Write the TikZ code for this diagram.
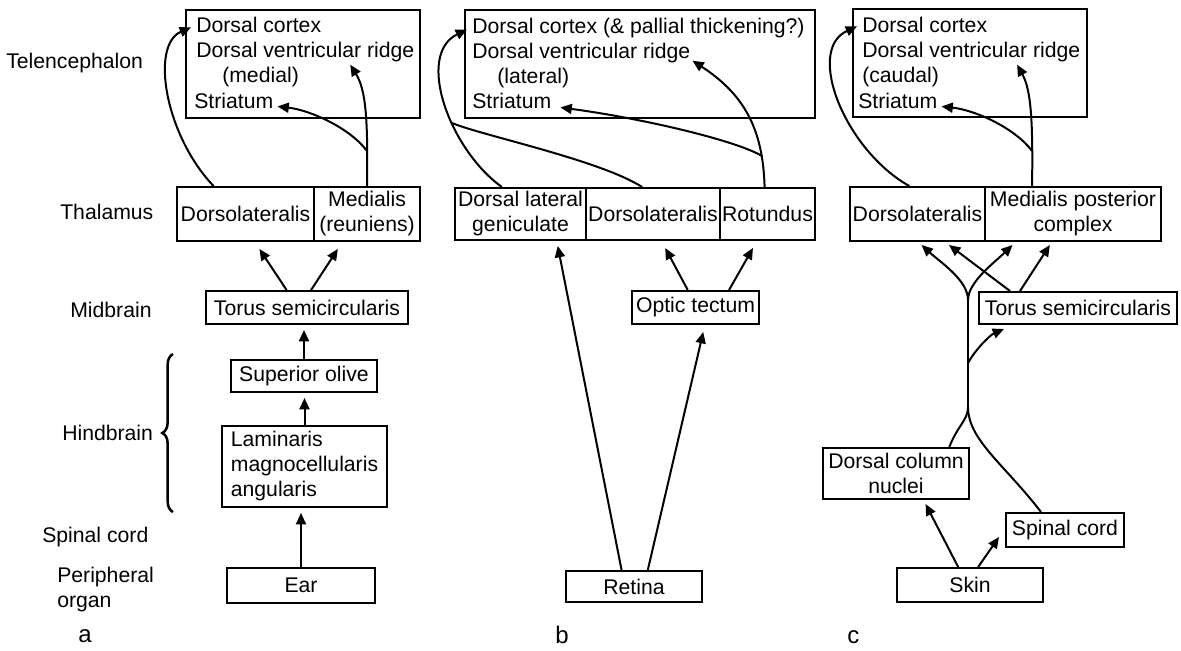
\documentclass[tikz,border=0pt]{standalone}
\usepackage{fontspec}
\setmainfont{Liberation Sans}
\usetikzlibrary{arrows.meta,calc,decorations.pathreplacing}
\begin{document}
\begin{tikzpicture}[x=0.75pt,y=-0.75pt,
  every node/.style={font=\fontsize{15.9}{18.75}\selectfont},
  box/.style={draw, line width=1.5pt, inner sep=0pt, align=center},
  rect/.style n args={4}{minimum width={(#3-#1)*0.75pt}, minimum height={(#4-#2)*0.75pt}, at={({(#1+#3)/2},{(#2+#4)/2})}},
  lbl/.style={inner sep=0pt, anchor=base west},
  side/.style={inner sep=0pt, anchor=west, align=left},
  arr/.style={line width=1.5pt, -{Triangle[length=8.5pt,width=7.5pt]}},
  ln/.style={line width=1.5pt}]
\fill[white] (0,0) rectangle (1181,650);
\useasboundingbox (0,0) rectangle (1181,650);

% ---------- side labels ----------
\node[side] (tel) at (6,63) {Telencephalon};
\node[side] (thal) at (60,212) {Thalamus};
\node[side] (mid) at (70,310) {Midbrain};
\node[side] (hind) at (62,433) {Hindbrain};
\node[side] (spin) at (42,537) {Spinal cord};
\node[side] (per) at (57,590) {Peripheral\\organ};
\node[side, font=\fontsize{18}{20}\selectfont] (la) at (78,636) {a};
\node[side, font=\fontsize{18}{20}\selectfont] (lb) at (555,635) {b};
\node[side, font=\fontsize{18}{20}\selectfont] (lc) at (847,637) {c};
\draw[line width=1.9pt, decorate, decoration={brace, amplitude=8pt}] (173,512) -- (173,354);

% ---------- panel a ----------
\node[box, rect={186}{10}{420}{118}] (aTel) {};
\node[lbl] (aDC) at (196,32) {Dorsal cortex};
\node[lbl] (aDVR) at (196,57) {Dorsal ventricular ridge};
\node[lbl] (aMd) at (222,82) {(medial)};
\node[lbl] (aStr) at (194,108) {Striatum};
\node[box, rect={177}{187}{314}{241}] (aDL) {Dorsolateralis};
\node[box, rect={314}{187}{420}{241}] (aMed) {Medialis\\(reuniens)};
\node[box, rect={206}{291}{408}{324}] (aTor) {Torus semicircularis};
\node[box, rect={231}{360}{377}{392}] (aSO) {Superior olive};
\node[box, rect={222}{426}{387}{507}, align=left] (aLam) {Laminaris\\magnocellularis\\angularis};
\node[box, rect={227}{568}{375}{603}] (aEar) {Ear};

\draw[arr] ($(aDL.north west)!0.27!(aDL.north east)$) .. controls (165,135) and (150,45) .. ([shift={(-5,3)}]aDC.west);
\coordinate (aBr) at (367,151);
\draw[arr] (aMed.north) .. controls (368,120) and (366,90) .. ($(aDVR.south west)!0.706!(aDVR.south east)+(0,3)$);
\draw[arr] (aBr) .. controls (350,128) and (310,110) .. ([shift={(4,-2)}]aStr.south east);
\draw[arr] ($(aTor.north west)!0.4!(aTor.north east)$) -- ($(aDL.south west)!0.6!(aDL.south east)+(0,7)$);
\draw[arr] ($(aTor.north west)!0.52!(aTor.north east)$) -- ($(aMed.south west)!0.23!(aMed.south east)+(0,7)$);
\draw[arr] (aSO.north) -- ($(aSO.north |- aTor.south)+(0,5)$);
\draw[arr] (aLam.north) -- ($(aLam.north |- aSO.south)+(0,5)$);
\draw[arr] (aEar.north) -- ($(aEar.north |- aLam.south)+(0,5)$);

% ---------- panel b ----------
\node[box, rect={465}{10}{815}{118}] (bTel) {};
\node[lbl] (bDC) at (472,33) {Dorsal cortex (\& pallial thickening?)};
\node[lbl] (bDVR) at (472,58) {Dorsal ventricular ridge};
\node[lbl] (bLat) at (497,83) {(lateral)};
\node[lbl] (bStr) at (472,108) {Striatum};
\node[box, rect={455}{188}{586}{240}] (bDLG) {Dorsal lateral\\geniculate};
\node[box, rect={586}{188}{720}{240}] (bDL) {Dorsolateralis};
\node[box, rect={720}{188}{815}{240}] (bRot) {Rotundus};
\node[box, rect={632}{291}{759}{324}] (bOT) {Optic tectum};
\node[box, rect={566}{571}{702}{602}] (bRet) {Retina};

\draw[arr] ($(bDLG.north west)!0.36!(bDLG.north east)$) .. controls (450,150) and (415,55) .. ([shift={(-5,2)}]bDC.west);
\coordinate (bM) at (452,123);
\draw[ln] ($(bDL.north west)!0.42!(bDL.north east)$) .. controls (600,160) and (480,135) .. (bM);
\coordinate (bBr) at (762,156);
\draw[arr] ($(bRot.north west)!0.47!(bRot.north east)$) .. controls (763,130) and (745,95) .. ([shift={(2,-2)}]bDVR.south east);
\draw[arr] (bBr) .. controls (735,140) and (640,118) .. ([shift={(9,-1)}]bStr.south east);
\draw[arr] ($(bRet.north west)!0.41!(bRet.north east)$) -- ($(bDLG.south west)!0.78!(bDLG.south east)+(0,5)$);
\draw[arr] ($(bRet.north west)!0.6!(bRet.north east)$) -- ($(bOT.south west)!0.56!(bOT.south east)+(0,7)$);
\draw[arr] ($(bOT.north west)!0.44!(bOT.north east)$) -- ($(bDL.south west)!0.59!(bDL.south east)+(0,7)$);
\draw[arr] ($(bOT.north west)!0.76!(bOT.north east)$) -- ($(bRot.south west)!0.35!(bRot.south east)+(0,7)$);

% ---------- panel c ----------
\node[box, rect={853}{9}{1087}{117}] (cTel) {};
\node[lbl] (cDC) at (862,32) {Dorsal cortex};
\node[lbl] (cDVR) at (862,57) {Dorsal ventricular ridge};
\node[lbl] (cCd) at (862,82) {(caudal)};
\node[lbl] (cStr) at (858,108) {Striatum};
\node[box, rect={850}{187}{985}{241}] (cDL) {Dorsolateralis};
\node[box, rect={985}{187}{1161}{241}] (cMP) {Medialis posterior\\complex};
\node[box, rect={979}{292}{1177}{324}] (cTor) {Torus semicircularis};
\node[box, rect={823}{448}{969}{499}] (cDCN) {Dorsal column\\nuclei};
\node[box, rect={1006}{513}{1124}{547}] (cSC) {Spinal cord};
\node[box, rect={897}{568}{1043}{602}] (cSkin) {Skin};

\draw[arr] ($(cDL.north west)!0.44!(cDL.north east)$) .. controls (845,150) and (805,50) .. ([shift={(-5,2)}]cDC.west);
\coordinate (cBr) at (1032,151);
\draw[arr] ($(cMP.north west)!0.27!(cMP.north east)$) .. controls (1033,120) and (1031,90) .. ($(cDVR.south west)!0.71!(cDVR.south east)+(0,3)$);
\draw[arr] (cBr) .. controls (1015,128) and (975,110) .. ([shift={(4,-2)}]cStr.south east);

\draw[arr] ($(cSkin.north west)!0.42!(cSkin.north east)$) -- ($(cDCN.south west)!0.7!(cDCN.south east)+(0,4)$);
\draw[arr] ($(cSkin.north west)!0.555!(cSkin.north east)$) -- ([shift={(-6,7)}]cSC.west);
\coordinate (cJ) at (968,407);
\coordinate (cB) at (968,363);
\coordinate (cT) at (968,300);
\draw[ln] ($(cDCN.north west)!0.86!(cDCN.north east)$) .. controls (958,425) and (968,420) .. (cJ);
\draw[ln] ($(cSC.north west)!0.3!(cSC.north east)$) .. controls (1005,465) and (968,440) .. (cJ);
\draw[ln] (cJ) -- (cT);
\draw[arr] (cB) .. controls (975,350) and (990,335) .. ($(cTor.south west)!0.13!(cTor.south east)+(0,4)$);
\draw[arr] (cT) .. controls (968,280) and (940,262) .. ($(cDL.south west)!0.53!(cDL.south east)+(0,3)$);
\draw[arr] (cT) .. controls (968,282) and (995,262) .. ($(cMP.south west)!0.16!(cMP.south east)+(0,3)$);
\draw[arr] ($(cTor.north west)!0.16!(cTor.north east)$) -- ($(cDL.south west)!0.73!(cDL.south east)+(0,3)$);
\draw[arr] ($(cTor.north west)!0.21!(cTor.north east)$) -- ($(cMP.south west)!0.37!(cMP.south east)+(0,3)$);
\end{tikzpicture}
\end{document}
